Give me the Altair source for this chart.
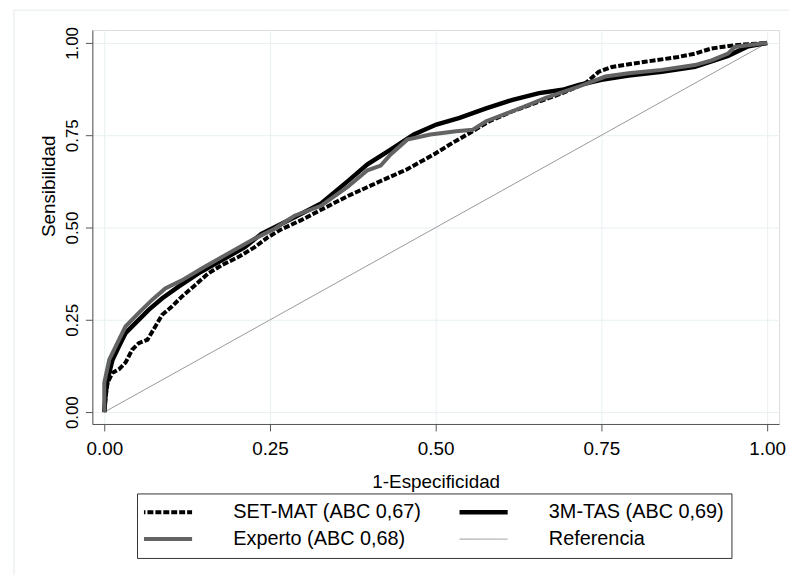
import altair as alt
import pandas as pd

series = ["SET-MAT (ABC 0,67)", "3M-TAS (ABC 0,69)", "Experto (ABC 0,68)", "Referencia"]

setmat_x = [0, 0.002, 0.005, 0.0125, 0.022, 0.032, 0.042, 0.052, 0.065, 0.077, 0.087, 0.102, 0.117,
            0.137, 0.157, 0.177, 0.202, 0.227, 0.247, 0.267, 0.297, 0.327, 0.367, 0.417, 0.457, 0.497,
            0.526, 0.556, 0.581, 0.616, 0.656, 0.691, 0.726, 0.746, 0.766, 0.816, 0.866, 0.891, 0.916,
            0.951, 1.0]
setmat_y = [0, 0.04, 0.08, 0.107, 0.116, 0.134, 0.169, 0.187, 0.196, 0.232, 0.263, 0.286, 0.313,
            0.344, 0.376, 0.398, 0.420, 0.447, 0.474, 0.495, 0.520, 0.548, 0.585, 0.626, 0.658, 0.698,
            0.730, 0.761, 0.788, 0.815, 0.841, 0.864, 0.891, 0.922, 0.935, 0.949, 0.962, 0.971, 0.985,
            0.994, 1.0]

tas_x = [0, 0.002, 0.005, 0.0125, 0.022, 0.032, 0.047, 0.067, 0.087, 0.112, 0.142, 0.177, 0.212,
         0.237, 0.257, 0.287, 0.327, 0.367, 0.397, 0.432, 0.467, 0.501, 0.536, 0.576, 0.616, 0.656,
         0.691, 0.716, 0.75, 0.791, 0.841, 0.891, 0.941, 0.97, 1.0]
tas_y = [0, 0.05, 0.089, 0.142, 0.178, 0.214, 0.241, 0.277, 0.308, 0.340, 0.376, 0.411, 0.447,
         0.483, 0.501, 0.528, 0.565, 0.625, 0.671, 0.711, 0.752, 0.779, 0.797, 0.823, 0.846, 0.864,
         0.873, 0.886, 0.900, 0.912, 0.922, 0.935, 0.965, 0.99, 1.0]

exp_x = [0, 0.0, 0.0075, 0.022, 0.032, 0.052, 0.072, 0.092, 0.117, 0.147, 0.187, 0.227, 0.257,
         0.287, 0.327, 0.367, 0.397, 0.417, 0.432, 0.457, 0.492, 0.531, 0.556, 0.576, 0.616, 0.666,
         0.716, 0.756, 0.791, 0.841, 0.891, 0.916, 0.941, 0.951, 0.976, 1.0]
exp_y = [0, 0.08, 0.142, 0.196, 0.232, 0.269, 0.304, 0.335, 0.357, 0.389, 0.43, 0.47, 0.497,
         0.532, 0.559, 0.61, 0.655, 0.668, 0.698, 0.738, 0.752, 0.761, 0.765, 0.788, 0.815, 0.851,
         0.882, 0.909, 0.918, 0.927, 0.940, 0.953, 0.971, 0.989, 0.995, 1.0]

ref_x = [0, 1]
ref_y = [0, 1]

ticks = [0, 0.25, 0.5, 0.75, 1]

rows = []
for name, xs, ys in [(series[0], setmat_x, setmat_y), (series[1], tas_x, tas_y),
                     (series[2], exp_x, exp_y), (series[3], ref_x, ref_y)]:
    for i, (a, b) in enumerate(zip(xs, ys)):
        rows.append({"serie": name, "x": a, "y": b, "i": i})
df = pd.DataFrame(rows)

FONT = "Liberation Sans"

legend = alt.Legend(
    title=None, orient="none", legendX=45, legendY=467, columns=2, direction="horizontal",
    symbolType="stroke", symbolSize=5929, clipHeight=24, labelFont=FONT, labelFontSize=20,
    labelColor="#000000", strokeColor="#333333", padding=7, columnPadding=38, rowPadding=3,
    labelOffset=70, gridAlign="all", labelLimit=400,
    symbolStrokeWidth=alt.ExprRef(expr="datum.value === 'Referencia' ? 1 : (datum.value === '3M-TAS (ABC 0,69)' ? 4.5 : 4)"),
    symbolDash=alt.ExprRef(expr="datum.value === 'SET-MAT (ABC 0,67)' ? [6, 2] : [1, 0]"),
)
color_scale = alt.Scale(domain=series, range=["#000000", "#000000", "#636363", "#999999"])

xax = alt.Axis(values=ticks, format=".2f", title="1-Especificidad", grid=True, gridColor="#e8f0f2",
               domainColor="#555555", tickColor="#555555", tickSize=7, labelFontSize=19,
               labelFont=FONT, labelColor="#000000", titleFont=FONT, titleFontSize=19,
               titleFontWeight="normal", titleColor="#000000", labelPadding=9, titlePadding=14)
yax = alt.Axis(values=ticks, format=".2f", title="Sensibilidad", grid=True, gridColor="#e8f0f2",
               domainColor="#555555", tickColor="#555555", tickSize=7, labelFontSize=17,
               labelFont=FONT, labelColor="#000000", labelAngle=270, labelAlign="center",
               labelBaseline="bottom", labelPadding=4, titleFont=FONT, titleFontSize=19,
               titleFontWeight="normal", titleColor="#000000", titleAngle=270,
               titleAlign="center", titleBaseline="middle", titleX=-44, titleY=157)

base = alt.Chart(df).encode(
    x=alt.X("x:Q", scale=alt.Scale(domain=[-0.018, 1.018], nice=False, zero=False), axis=xax),
    y=alt.Y("y:Q", scale=alt.Scale(domain=[-0.032, 1.035], nice=False, zero=False), axis=yax),
    color=alt.Color("serie:N", scale=color_scale, legend=legend),
    order="i:Q",
)

styles = {
    series[3]: dict(strokeWidth=1),
    series[0]: dict(strokeWidth=4, strokeDash=[6, 2]),
    series[1]: dict(strokeWidth=4.5),
    series[2]: dict(strokeWidth=4),
}
layers = [base.mark_line(**styles[s]).transform_filter(alt.datum.serie == s)
          for s in [series[3], series[0], series[1], series[2]]]

frame = alt.Chart(pd.DataFrame({"a": [0]})).mark_rect(fill="transparent", stroke="#e2eaec",
                                                      strokeWidth=1).encode(
    x=alt.value(14 - 93), x2=alt.value(830 - 93), y=alt.value(8 - 28), y2=alt.value(620 - 28))

chart = alt.layer(frame, *layers).properties(
    width=692, height=397, autosize=alt.AutoSizeParams(type="none"),
    padding={"left": 85, "top": 20, "right": 10, "bottom": 150},
).configure_view(stroke=None).configure(background="white")

chart.save("out.html", embed_options={"renderer": "svg", "actions": False})
